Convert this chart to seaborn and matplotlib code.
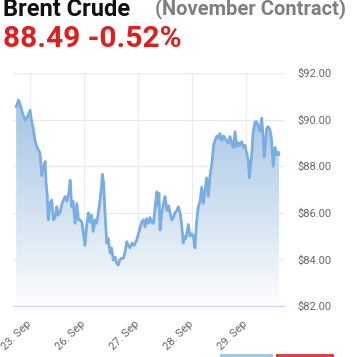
import numpy as np
import pandas as pd
import seaborn as sns
import matplotlib.pyplot as plt
from matplotlib.colors import LinearSegmentedColormap
from matplotlib.patches import Rectangle

# --------------------------- DATA ---------------------------
# hours on a trading-day axis (weekend collapsed), 0 = 23 Sep 00:00, 24 h per day
hours = [-6.2, -5.6, -5.2, -4.8, -4.0, -3.1, -2.2, -1.3, -0.4, 0.0, 0.4, 1.5, 2.2, 3.0,
         3.7, 4.4, 5.2, 5.8, 6.7, 7.1, 7.6, 8.1, 8.9, 9.6, 10.4, 11.1, 11.9, 12.4, 13.3,
         14.2, 15.6, 16.4, 17.3, 17.8, 18.5, 19.1, 20.0, 20.8, 21.5, 22.2, 23.0, 23.6,
         24.4, 25.1, 25.9, 26.7, 27.3, 28.1, 28.9, 29.6, 30.2, 31.1, 31.8, 32.1, 32.7,
         33.3, 34.1, 34.7, 35.6, 36.2, 37.0, 37.8, 38.4, 39.2, 40.0, 40.7, 41.5, 42.2,
         43.0, 43.6, 44.4, 45.3, 46.2, 47.4, 48.2, 48.9, 49.6, 50.4, 51.1, 51.8, 52.6,
         53.3, 54.0, 54.8, 55.6, 56.3, 56.9, 57.3, 57.8, 58.4, 59.3, 60.0, 60.8, 61.6,
         62.2, 63.0, 63.7, 64.4, 65.2, 65.9, 66.7, 67.3, 68.1, 68.7, 69.3, 70.4, 71.1,
         71.9, 72.6, 73.3, 74.0, 74.8, 75.6, 76.3, 77.0, 77.8, 78.5, 79.2, 80.0, 80.8,
         81.6, 82.2, 83.1, 83.8, 84.4, 85.3, 86.0, 86.7, 87.3, 88.0, 88.9, 89.6, 90.4,
         91.1, 91.9, 92.7, 93.3, 94.1, 94.9, 95.6, 96.2, 97.0, 97.5, 98.0, 98.5, 99.1,
         100.0, 100.8, 101.5, 102.2, 103.0, 103.6, 104.1, 104.7, 105.2, 105.9, 106.7,
         107.3, 108.1, 108.9, 109.6, 110.4, 110.7]
price = [90.55, 90.7, 90.84, 90.77, 90.5, 90.2, 89.98, 90.1, 90.3, 90.4, 90.1, 89.55,
         89.1, 88.84, 88.7, 88.57, 87.6, 87.9, 88.2, 87.3, 86.8, 85.7, 86.4, 86.55, 85.7,
         85.8, 86.26, 85.9, 86.0, 86.4, 86.7, 86.5, 86.9, 87.4, 86.26, 86.5, 85.55, 86.4,
         85.7, 85.7, 85.6, 85.2, 84.6, 85.4, 86.0, 85.6, 85.9, 85.2, 85.7, 85.55, 85.9,
         86.55, 87.2, 87.65, 87.3, 86.0, 84.7, 84.9, 84.27, 84.5, 83.97, 84.1, 83.85,
         83.76, 84.0, 84.05, 84.05, 84.3, 84.76, 84.6, 84.5, 84.7, 84.6, 84.83, 85.1,
         85.35, 85.6, 85.7, 85.4, 85.75, 85.55, 85.8, 85.6, 85.55, 86.2, 86.9, 86.3,
         86.85, 85.26, 85.9, 86.4, 86.7, 86.1, 86.3, 86.0, 85.7, 85.8, 86.0, 86.1, 86.26,
         86.0, 85.6, 84.7, 85.0, 84.9, 85.5, 85.0, 85.1, 84.98, 84.5, 85.6, 86.26, 86.5,
         87.1, 86.4, 87.0, 87.5, 86.7, 87.6, 88.1, 88.9, 89.1, 89.3, 89.2, 89.4, 89.1,
         89.3, 89.2, 89.1, 89.0, 89.27, 89.0, 88.8, 89.48, 88.84, 89.0, 88.9, 89.05, 88.8,
         88.9, 88.6, 88.27, 87.5, 88.0, 88.4, 89.4, 89.9, 89.9, 89.7, 89.5, 90.06, 89.3,
         88.4, 89.0, 89.63, 89.7, 89.55, 89.2, 88.0, 88.8, 88.5, 88.6, 88.49]

tick_hours = [0, 24, 48, 72, 96]
tick_labels = ["23. Sep", "26. Sep", "27. Sep", "28. Sep", "29. Sep"]
y_ticks = [82, 84, 86, 88, 90, 92]

df = pd.DataFrame({"hours": hours, "price": price})

# --------------------------- FIGURE ---------------------------
sns.set_style("white")
plt.rcParams['font.family'] = ['Roboto', 'DejaVu Sans']

fig = plt.figure(figsize=(3.55, 3.57), dpi=100)
ax = fig.add_axes([13 / 355, 1 - 306 / 357, 271 / 355, 233 / 357])

xlim = (-7.6, 112.9)
ylim = (82, 92)

# gradient area under the line
fill = ax.fill_between(df["hours"], df["price"], ylim[0], color="none", lw=0)
cmap = LinearSegmentedColormap.from_list("grad", ["#ffffff", "#a4c4e3"])
grad = np.linspace(0, 1, 256).reshape(-1, 1) ** 0.9
img = ax.imshow(grad, cmap=cmap, aspect="auto", origin="lower",
                extent=[xlim[0], xlim[1], ylim[0], 91.0], zorder=1)
img.set_clip_path(fill.get_paths()[0], transform=ax.transData)

sns.lineplot(data=df, x="hours", y="price", ax=ax, color="#7aaee3", lw=2.0, zorder=3)

ax.set_xlim(*xlim)
ax.set_ylim(*ylim)

# grid
for yv in y_ticks:
    ax.axhline(yv, color="#e8e8e8", lw=0.8, zorder=0)
for xv in tick_hours:
    ax.axvline(xv, color="#ececec", lw=0.8, zorder=0)

for s in ["top", "left", "right"]:
    ax.spines[s].set_visible(False)
ax.spines["bottom"].set_color("#ccd6eb")
ax.spines["bottom"].set_linewidth(0.9)
ax.spines["bottom"].set_zorder(4)

ax.set_xticks(tick_hours)
ax.set_xticklabels(tick_labels, rotation=45, ha="right", va="center",
                   rotation_mode="anchor", color="#666666", fontsize=8)
ax.tick_params(axis="x", length=6, width=0.9, color="#ccd6eb", pad=6)

ax.yaxis.tick_right()
ax.set_yticks(y_ticks)
ax.set_yticklabels([f"${v:.2f}" for v in y_ticks], color="#666666", fontsize=8)
ax.tick_params(axis="y", length=0, pad=10)
ax.set_xlabel("")
ax.set_ylabel("")

# --------------------------- TITLES ---------------------------
fig.text(3 / 355, 1 - 16 / 357, "Brent Crude", fontsize=17, fontweight="bold",
         color="#111111", ha="left", va="baseline")
fig.text(155 / 355, 1 - 14.5 / 357, "(November Contract)", fontsize=14.5, fontweight="bold",
         color="#7f7f7f", ha="left", va="baseline")
fig.text(3 / 355, 1 - 47 / 357, "88.49 -0.52%", fontsize=21.5, fontweight="bold",
         color="#e01e1e", ha="left", va="baseline")

# bottom buttons peeking in
fig.patches.append(Rectangle((221 / 355, 0), 51 / 355, 2 / 357, transform=fig.transFigure,
                             facecolor="#f4f9fc", edgecolor="#8fc1e0", lw=1.2))
fig.patches.append(Rectangle((277 / 355, 0), 56 / 355, 2 / 357, transform=fig.transFigure,
                             facecolor="#fbeaea", edgecolor="#d42020", lw=1.2))

fig.savefig("out.png", dpi=100)
